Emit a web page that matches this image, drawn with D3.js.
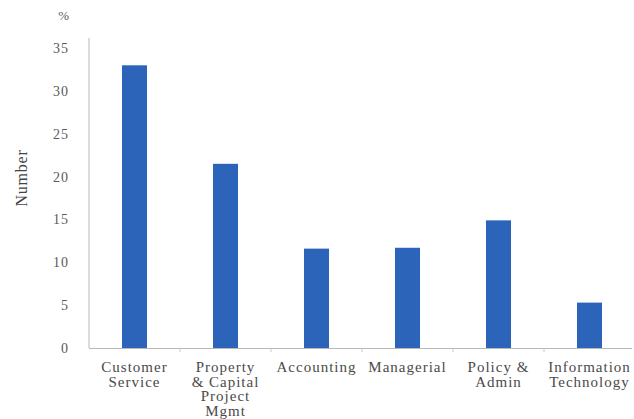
<!DOCTYPE html>
<html>
<head>
<meta charset="utf-8">
<script src="https://cdn.jsdelivr.net/npm/d3@7/dist/d3.min.js"></script>
<style>
  html, body { margin: 0; padding: 0; background: #fff; }
  svg { display: block; }
  svg text { font-family: 'Liberation Serif', 'Times New Roman', 'DejaVu Serif', serif !important; }
</style>
</head>
<body>
<svg id="chart" width="634" height="419"></svg>
<script>
// Staff by job area (%)
const categories = [
  ["Customer", "Service"],
  ["Property", "& Capital", "Project", "Mgmt"],
  ["Accounting"],
  ["Managerial"],
  ["Policy &", "Admin"],
  ["Information", "Technology"]
];
const values = [33, 21.5, 11.6, 11.7, 14.9, 5.3];
const yTicks = [0, 5, 10, 15, 20, 25, 30, 35];

const svg = d3.select("#chart");
const left = 89, right = 635, baseY = 348;

const keys = categories.map(c => c.join(" "));
const x = d3.scaleBand().domain(keys).range([left, right]).paddingInner(0.725).paddingOuter(0.3625);
const y = d3.scaleLinear().domain([0, 30]).range([baseY, 91]);

// y axis: labels only, plain vertical rule
svg.append("line")
  .attr("x1", left).attr("x2", left)
  .attr("y1", 38).attr("y2", baseY)
  .attr("stroke", "#b8b8b8").attr("stroke-width", 1);

const yAxis = d3.axisLeft(y).tickValues(yTicks).tickSize(0).tickPadding(20);
const gy = svg.append("g").attr("transform", `translate(${left},0)`).call(yAxis)
  .attr("font-size", 14);
gy.select(".domain").remove();
gy.selectAll("text")
  .attr("fill", "#5a5a5a")
  .attr("letter-spacing", "1");

svg.append("text")
  .attr("x", 69).attr("y", 20)
  .attr("text-anchor", "end")
  .attr("fill", "#5a5a5a")
  .attr("font-size", 13)
  .text("%");

svg.append("text")
  .attr("transform", "translate(27,178) rotate(-90)")
  .attr("text-anchor", "middle")
  .attr("fill", "#444")
  .attr("font-size", 16)
  .attr("letter-spacing", "0.8")
  .text("Number");

// x baseline with small ticks between categories
svg.append("line")
  .attr("x1", left).attr("x2", 632)
  .attr("y1", baseY + 0.5).attr("y2", baseY + 0.5)
  .attr("stroke", "#b8b8b8").attr("stroke-width", 1);

const step = x.step();
svg.append("g").selectAll("line")
  .data(keys.slice(1))
  .join("line")
  .attr("x1", d => x(d) + x.bandwidth() / 2 - step / 2)
  .attr("x2", d => x(d) + x.bandwidth() / 2 - step / 2)
  .attr("y1", baseY).attr("y2", baseY + 4)
  .attr("stroke", "#c8c8c8");

// bars
svg.append("g").selectAll("rect")
  .data(values)
  .join("rect")
  .attr("x", (d, i) => x(keys[i]))
  .attr("y", d => y(d))
  .attr("width", x.bandwidth())
  .attr("height", d => baseY - y(d))
  .attr("fill", "#2c64ba");

// category labels
const lab = svg.append("g").selectAll("text")
  .data(categories)
  .join("text")
  .attr("text-anchor", "middle")
  .attr("fill", "#4a4a4a")
  .attr("font-size", 15)
  .attr("letter-spacing", "1")
  .attr("x", (d, i) => x(keys[i]) + x.bandwidth() / 2)
  .attr("y", 372);
lab.selectAll("tspan")
  .data(d => d)
  .join("tspan")
  .attr("x", function() { return this.parentNode.getAttribute("x"); })
  .attr("dy", (d, i) => i === 0 ? 0 : 14.5)
  .text(d => d);
</script>
</body>
</html>
